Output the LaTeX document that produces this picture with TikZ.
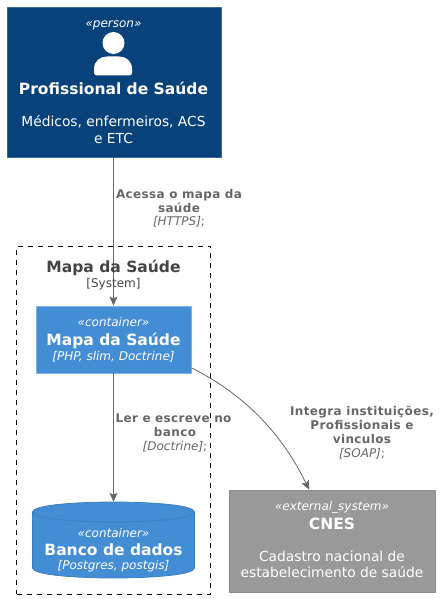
\documentclass[tikz,border=0pt]{standalone}
\usepackage{fontspec}
\setmainfont{DejaVu Sans}
\newfontfamily\relfont[LetterSpace=3]{DejaVu Sans Bold}
\usetikzlibrary{arrows.meta}
\definecolor{personblue}{HTML}{08427B}
\definecolor{personline}{HTML}{3C6A98}
\definecolor{contblue}{HTML}{438DD5}
\definecolor{contline}{HTML}{7FB2E4}
\definecolor{dbline}{HTML}{3C7FC0}
\definecolor{extgray}{HTML}{999999}
\definecolor{extline}{HTML}{8A8A8A}
\definecolor{relgray}{HTML}{666666}
\definecolor{titlegray}{HTML}{444444}
\tikzset{
	boxnode/.style={rectangle,draw,inner sep=0pt,line width=.8pt},
	stereo/.style={font=\fontsize{12}{14}\selectfont\itshape,text=white,inner sep=0pt,anchor=base},
	boxtitle/.style={font=\fontsize{15.5}{19}\selectfont\bfseries,text=white,inner sep=0pt,anchor=base},
	boxdesc/.style={font=\fontsize{13.8}{17}\selectfont,text=white,inner sep=0pt,anchor=base},
	reltitle/.style={font=\fontsize{12}{14}\selectfont\relfont,text=relgray,inner sep=0pt,anchor=base},
	reltech/.style={font=\fontsize{12}{14}\selectfont\itshape,text=relgray,inner sep=0pt,anchor=base},
	rel/.style={draw=relgray,line width=.8pt,-{Stealth[length=9pt,width=8pt,inset=2pt]}}
}
\begin{document}
\begin{tikzpicture}[x=1pt,y=-1pt,line join=round,line cap=butt]
	\useasboundingbox (0,0) rectangle (444,599);
	\def\mx{113.5}
	% boundary
	\node[rectangle,draw=black,dash pattern=on 5pt off 5pt,line width=.8pt,inner sep=0pt,minimum width=194pt,minimum height=348pt] (boundary) at (\mx,420) {};
	% boxes
	\node[boxnode,draw=personline,fill=personblue,minimum width=214pt,minimum height=150pt] (person) at (\mx+.5,82) {};
	\node[boxnode,draw=contline,fill=contblue,minimum width=155pt,minimum height=67pt] (mapa) at (\mx,339.5) {};
	\node[boxnode,draw=extline,fill=extgray,minimum width=206pt,minimum height=102pt] (cnes) at (332,541) {};
	\node[rectangle,inner sep=0pt,minimum width=162pt,minimum height=76pt] (banco) at (\mx,540) {};
	% database
	\draw[draw=dbline,fill=contblue,line width=.8pt] (32.5,512) .. controls (32.5,498.7) and (194.5,498.7) .. (194.5,512) -- (194.5,568) .. controls (194.5,581.3) and (32.5,581.3) .. (32.5,568) -- cycle;
	\draw[draw=dbline,line width=.8pt] (32.5,512) .. controls (32.5,525.3) and (194.5,525.3) .. (194.5,512);
	% person icon
	\fill[white] (\mx,43) circle (11);
	\fill[white] (97,75.5) .. controls (95,75.5) and (94,74.5) .. (94,72.5) -- (94,69) .. controls (94,61) and (100,56.5) .. (107,56.5) -- (119,56.5) .. controls (126,56.5) and (132,61) .. (132,69) -- (132,72.5) .. controls (132,74.5) and (131,75.5) .. (129,75.5) -- cycle;
	% connectors
	\draw[rel] (person.south -| mapa.north) -- (mapa.north);
	\draw[rel] (mapa.south) -- (banco.north);
	\draw[rel] (mapa.-20) .. controls (250,397) and (285,440) .. (cnes.114);
	% texts
	\node[stereo] (tperson) at (\mx,28) {«person»};
	\node[boxtitle] (nperson) at (\mx,94.3) {Profissional de Saúde};
	\node[boxdesc] (dperson) at (\mx,126.7) {Médicos, enfermeiros, ACS};
	\node[boxdesc] (eperson) at (\mx,143.3) {e ETC};
	\node[boxtitle,text=titlegray] (nboundary) at (\mx,272.3) {Mapa da Saúde};
	\node[font=\fontsize{12}{14}\selectfont,text=titlegray,inner sep=0pt,anchor=base] (tboundary) at (\mx,287.7) {[System]};
	\node[stereo] (tmapa) at (\mx,326.7) {«container»};
	\node[boxtitle] (nmapa) at (\mx,345.7) {Mapa da Saúde};
	\node[stereo] (dmapa) at (\mx,360) {[PHP, slim, Doctrine]};
	\node[stereo] (tbanco) at (\mx,537.7) {«container»};
	\node[boxtitle] (nbanco) at (\mx,555) {Banco de dados};
	\node[stereo] (dbanco) at (\mx,569.3) {[Postgres, postgis]};
	\node[stereo] (tcnes) at (332,510.7) {«external\_system»};
	\node[boxtitle] (ncnes) at (332,529) {CNES};
	\node[boxdesc] (dcnes) at (332,561.7) {Cadastro nacional de};
	\node[boxdesc] (ecnes) at (332,577.7) {estabelecimento de saúde};
	\node[reltitle] (acessa) at (179,198.3) {Acessa o mapa da};
	\node[reltitle] (acessb) at (179,212) {saúde};
	\node[reltech] (acessc) at (179,225.7) {[HTTPS]\textup{;}};
	\node[reltitle] (lera) at (173.5,422) {Ler e escreve no};
	\node[reltitle] (lerb) at (175,436) {banco};
	\node[reltech] (lerc) at (175,450) {[Doctrine]\textup{;}};
	\node[reltitle] (intega) at (362,415) {Integra instituições,};
	\node[reltitle] (integb) at (362,429) {Profissionais e};
	\node[reltitle] (integc) at (362,443) {vinculos};
	\node[reltech] (integd) at (362,457) {[SOAP]\textup{;}};
\end{tikzpicture}
\end{document}
